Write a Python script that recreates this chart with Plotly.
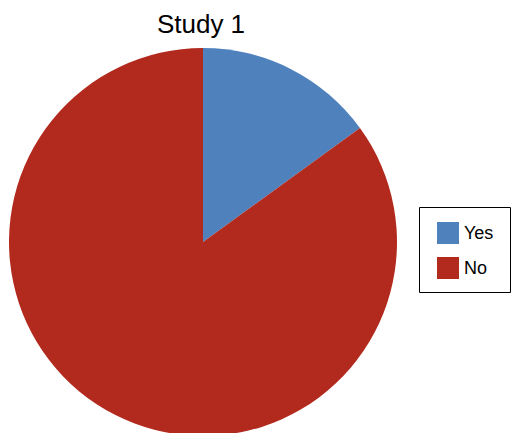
import plotly.graph_objects as go

labels = ["Yes", "No"]
values = [15, 85]
colors = ["#4F81BD", "#B22A1E"]

W, H = 512, 436
T, B = 48, 0
PH = H - T - B


def px(x):
    return x / W


def py(y):
    return (H - B - y) / PH


cx, r = 203, 194

fig = go.Figure(go.Pie(
    labels=labels, values=values, sort=False, direction="clockwise", rotation=0,
    marker=dict(colors=colors, line=dict(width=0)),
    textinfo="none", hoverinfo="label+percent", showlegend=False,
    domain=dict(x=[px(cx - r), px(cx + r)], y=[0, 1]),
))

# legend box
shapes = [dict(type="rect", xref="paper", yref="paper",
               x0=px(419.5), x1=px(510.5), y0=py(207.5), y1=py(292.5),
               line=dict(color="black", width=1), fillcolor="white", layer="above")]
annotations = []
for i, (lab, col) in enumerate(zip(labels, colors)):
    y0 = 222 + 35 * i
    shapes.append(dict(type="rect", xref="paper", yref="paper",
                       x0=px(437), x1=px(459), y0=py(y0), y1=py(y0 + 22),
                       line=dict(width=0), fillcolor=col, layer="above"))
    annotations.append(dict(text=lab, xref="paper", yref="paper", x=px(462), y=py(y0 + 11),
                            xanchor="left", yanchor="middle", showarrow=False,
                            font=dict(family="Liberation Sans, Arial", size=18, color="black")))

fig.update_layout(
    width=W, height=H, autosize=False,
    margin=dict(l=0, r=0, t=T, b=B),
    paper_bgcolor="white", plot_bgcolor="white",
    title=dict(text="Study 1", x=201 / W, xanchor="center", y=1 - 24 / H, yanchor="middle",
               yref="container", font=dict(family="Liberation Sans, Arial", size=26, color="black")),
    shapes=shapes, annotations=annotations,
    showlegend=False,
)

fig.write_html(
    "out.html",
    config={"displayModeBar": False},
    post_script="document.body.style.margin='0';document.body.style.overflow='hidden';",
)
